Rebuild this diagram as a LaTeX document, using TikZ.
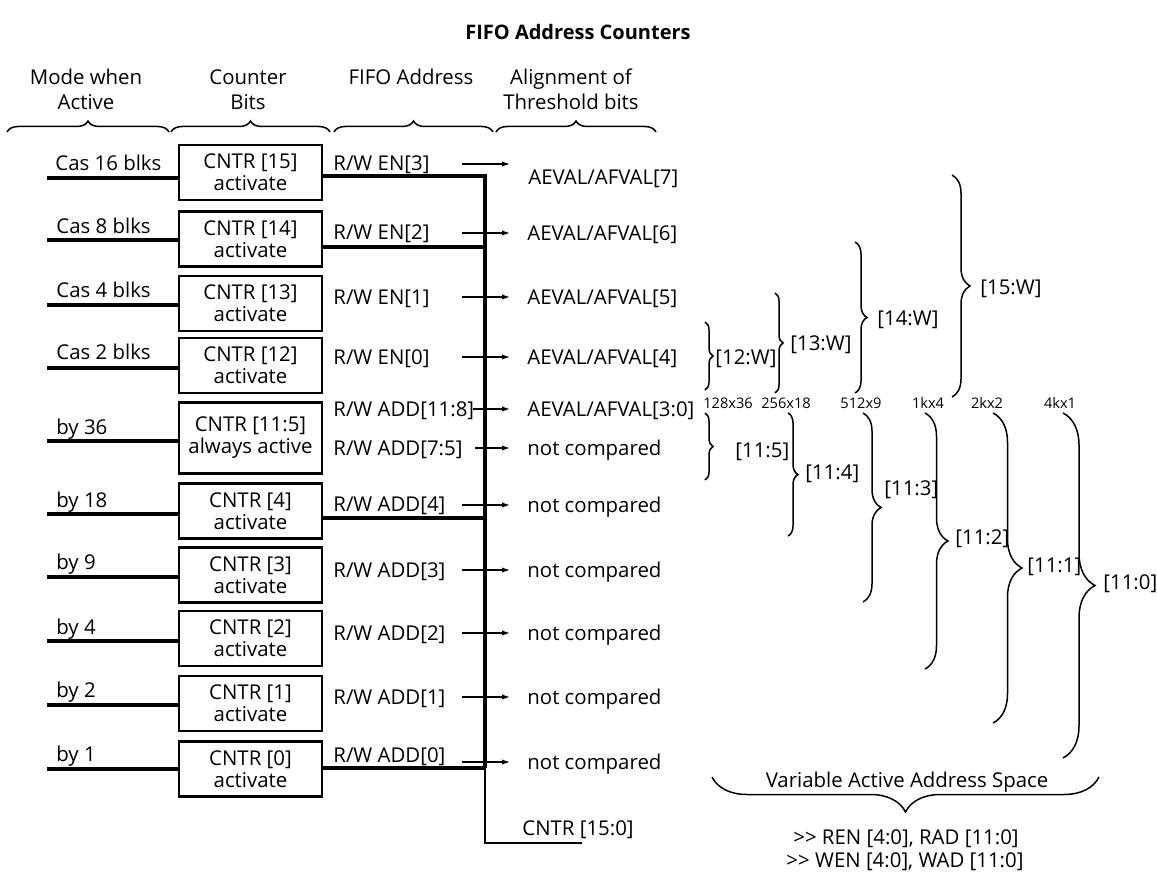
\documentclass[tikz,border=0pt]{standalone}
\usepackage{fontspec}
\setmainfont{Open Sans}
\usetikzlibrary{decorations.pathreplacing,arrows.meta}
\begin{document}
\begin{tikzpicture}[x=0.5pt,y=-0.5pt,
  every node/.style={inner sep=0pt, font=\fontsize{10.2}{11}\selectfont},
  lbl/.style={anchor=west, text height=7.3pt, text depth=0pt},
  hdr/.style={align=center, font=\fontsize{10.2}{12.5}\selectfont},
  small/.style={font=\fontsize{7.3}{8}\selectfont},
  cbox/.style={draw, line width=1.1pt, minimum width=71.5pt, minimum height=27.5pt, align=center},
  bigbox/.style={cbox, minimum height=35.5pt},
  thickw/.style={line width=2pt},
  thinw/.style={line width=0.7pt},
  arr/.style={line width=0.6pt, -{Latex[length=4pt,width=2.6pt]}},
  brc/.style={decorate, decoration={brace, amplitude=#1}, line width=0.75pt}
]
\fill[white] (0,0) rectangle (1157,872);
\useasboundingbox (0,0) rectangle (1157,872);

% title and headers
\node[font=\fontsize{10}{12}\selectfont\bfseries] (title) at (578,32) {FIFO Address Counters};
\node[hdr] (h1) at (86,89.5) {Mode when\\Active};
\node[hdr] (h2) at (248,89.5) {Counter\\Bits};
\node[lbl, anchor=center] (h3) at (411,77) {FIFO Address};
\node[hdr] (h4) at (571,89.5) {Alignment of\\Threshold bits};
\draw[brc=5.5pt] (7,132) -- (169,132);
\draw[brc=5.5pt] (171,132) -- (330,132);
\draw[brc=5.5pt] (334,132) -- (493,132);
\draw[brc=5.5pt] (496,132) -- (656,132);

% counter boxes
\node[cbox] (b15) at (250.5,172.5) {CNTR [15]\\activate};
\node[cbox] (b14) at (250.5,239) {CNTR [14]\\activate};
\node[cbox] (b13) at (250.5,303.5) {CNTR [13]\\activate};
\node[cbox] (b12) at (250.5,365.5) {CNTR [12]\\activate};
\node[bigbox] (b115) at (250.5,438) {CNTR [11:5]\\always active};
\node[cbox] (b4) at (250.5,511) {CNTR [4]\\activate};
\node[cbox] (b3) at (250.5,575) {CNTR [3]\\activate};
\node[cbox] (b2) at (250.5,638.5) {CNTR [2]\\activate};
\node[cbox] (b1) at (250.5,703.5) {CNTR [1]\\activate};
\node[cbox] (b0) at (250.5,769) {CNTR [0]\\activate};

% mode labels and input lines
\node[lbl] (m15) at (55,163) {Cas 16 blks};
\node[lbl] (m14) at (56,226) {Cas 8 blks};
\node[lbl] (m13) at (56,290) {Cas 4 blks};
\node[lbl] (m12) at (56,352) {Cas 2 blks};
\node[lbl] (m115) at (56,427) {by 36};
\node[lbl] (m4) at (56,500) {by 18};
\node[lbl] (m3) at (56,562) {by 9};
\node[lbl] (m2) at (56,627) {by 4};
\node[lbl] (m1) at (56,690) {by 2};
\node[lbl] (m0) at (56,754) {by 1};
\coordinate (l15) at (47,178);
\coordinate (l14) at (47,240);
\coordinate (l13) at (47,305);
\coordinate (l12) at (47,367.5);
\coordinate (l115) at (47,441);
\coordinate (l4) at (47,514);
\coordinate (l3) at (47,577);
\coordinate (l2) at (47,641);
\coordinate (l1) at (47,705);
\coordinate (l0) at (47,769);
\foreach \r in {15,14,13,12,115,4,3,2,1,0}
  \draw[thickw] (l\r) -- (l\r -| b\r.west);

% FIFO address labels
\node[lbl] (a15) at (333,163) {R/W EN[3]};
\node[lbl] (a14) at (333,232) {R/W EN[2]};
\node[lbl] (a13) at (333,297) {R/W EN[1]};
\node[lbl] (a12) at (333,357) {R/W EN[0]};
\node[lbl] (a118) at (333,409) {R/W ADD[11:8]};
\node[lbl] (a75) at (333,448) {R/W ADD[7:5]};
\node[lbl] (a4) at (333,504) {R/W ADD[4]};
\node[lbl] (a3) at (333,570) {R/W ADD[3]};
\node[lbl] (a2) at (333,633) {R/W ADD[2]};
\node[lbl] (a1) at (333,697) {R/W ADD[1]};
\node[lbl] (a0) at (333,755) {R/W ADD[0]};

% threshold labels
\node[lbl] (r15) at (528,177) {AEVAL/AFVAL[7]};
\node[lbl] (r14) at (527,233) {AEVAL/AFVAL[6]};
\node[lbl] (r13) at (527,297) {AEVAL/AFVAL[5]};
\node[lbl] (r12) at (527,357) {AEVAL/AFVAL[4]};
\node[lbl] (r118) at (527,409) {AEVAL/AFVAL[3:0]};
\node[lbl] (r75) at (527,448) {not compared};
\node[lbl] (r4) at (527,505) {not compared};
\node[lbl] (r3) at (527,570) {not compared};
\node[lbl] (r2) at (527,633) {not compared};
\node[lbl] (r1) at (527,697) {not compared};
\node[lbl] (r0) at (527,762) {not compared};

% bus
\coordinate (bt) at (485,176);
\coordinate (j14) at (485,247);
\coordinate (j4) at (485,518);
\coordinate (bb) at (485,768);
\coordinate (bend) at (485,843);
\coordinate (cend) at (582,843);
\draw[thickw] (b15.east |- bt) -- (bt) -- (bb);
\draw[thickw] (b14.east |- j14) -- (j14);
\draw[thickw] (b4.east |- j4) -- (j4);
\draw[thickw] (b0.east |- bb) -- (bb);
\draw[thinw] (bb) -- (bend) -- (cend);
\node[lbl] (c150) at (522,828) {CNTR [15:0]};

% arrows
\coordinate (s15) at (462,164);
\coordinate (e15) at (510,164);
\draw[arr] (s15) -- (e15);
\coordinate (s14) at (462,233);
\coordinate (s13) at (462,297);
\coordinate (s12) at (462,357);
\coordinate (s118) at (473,409);
\coordinate (s75) at (475,448);
\coordinate (s4) at (462,505);
\coordinate (s3) at (462,570);
\coordinate (s2) at (462,633);
\coordinate (s1) at (462,697);
\coordinate (s0) at (462,762);
\foreach \r in {14,13,12,118,75,4,3,2,1,0}
  \draw[arr] (s\r) -- ([xshift=-8.5pt]r\r.west);

% right braces (threshold)
\draw[brc=4pt] (705,322) -- (705,390);
\node[lbl] (w12) at (715,357) {[12:W]};
\draw[brc=4pt] (775,293) -- (775,393);
\node[lbl] (w13) at (790,343) {[13:W]};
\draw[brc=6pt] (855,242) -- (855,393);
\node[lbl] (w14) at (877,318) {[14:W]};
\draw[brc=9pt] (952,175) -- (952,397);
\node[lbl] (w15) at (980,287) {[15:W]};

% size labels
\node[small] (z1) at (728,403) {128x36};
\node[small] (z2) at (786,403) {256x18};
\node[small] (z3) at (861,403) {512x9};
\node[small] (z4) at (928,403) {1kx4};
\node[small] (z5) at (987,403) {2kx2};
\node[small] (z6) at (1060,403) {4kx1};

% address braces
\draw[brc=4pt] (705,413) -- (705,480);
\node[lbl] (d5) at (735,450) {[11:5]};
\draw[brc=5pt] (788,413) -- (788,536);
\node[lbl] (d4) at (805,472) {[11:4]};
\draw[brc=9pt] (863,413) -- (863,602);
\node[lbl] (d3) at (884,488) {[11:3]};
\draw[brc=11.5pt] (925,413) -- (925,669);
\node[lbl] (d2) at (955,537) {[11:2]};
\draw[brc=14.5pt] (993,413) -- (993,723);
\node[lbl] (d1) at (1027,565) {[11:1]};
\draw[brc=16pt] (1063,413) -- (1063,758);
\node[lbl] (d0) at (1103,582) {[11:0]};

% bottom brace
\draw[brc=17.5pt] (1099,777) -- (712,777);
\node[lbl, anchor=center] (vas) at (907,780) {Variable Active Address Space};
\node[lbl, anchor=center] (ren) at (906,837) {>{}> REN [4:0], RAD [11:0]};
\node[lbl, anchor=center] (wen) at (905,860) {>{}> WEN [4:0], WAD [11:0]};
\end{tikzpicture}
\end{document}
